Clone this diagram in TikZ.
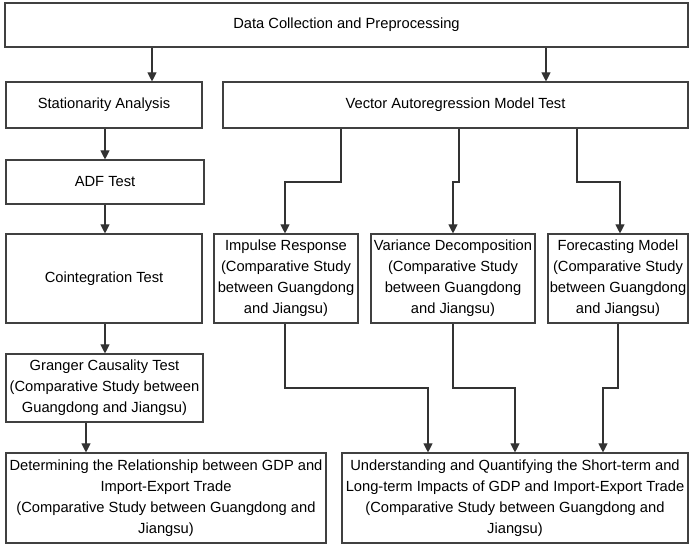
\documentclass[tikz,border=0pt]{standalone}
\usepackage{fontspec}
\setmainfont{Liberation Sans}
\usetikzlibrary{arrows.meta}
\begin{document}
\begin{tikzpicture}[x=1pt,y=-1pt,
  box/.style={draw=black!75, line width=1.1pt, inner sep=0pt, align=center,
    font=\fontsize{14.7}{21}\selectfont, text=black},
  arr/.style={draw=black!80, line width=1.1pt, -{Triangle[length=9pt,width=9pt]}},
  ln/.style={draw=black!80, line width=1.1pt}]
\useasboundingbox (0,0) rectangle (689,545);
\node[box, minimum width=683pt, minimum height=44pt] (top) at (346.5,25) {Data Collection and Preprocessing};
\node[box, minimum width=196pt, minimum height=46pt] (stat) at (104,105) {Stationarity Analysis};
\node[box, minimum width=465pt, minimum height=46pt] (var) at (455.5,105) {Vector Autoregression Model Test};
\node[box, minimum width=198pt, minimum height=44pt] (adf) at (105,182) {ADF Test};
\node[box, minimum width=196pt, minimum height=89pt] (coint) at (104,278.5) {Cointegration Test};
\node[box, minimum width=144pt, minimum height=89pt] (imp) at (286,278.5) {Impulse Response\\(Comparative Study\\between Guangdong\\and Jiangsu)};
\node[box, minimum width=164pt, minimum height=89pt] (vard) at (453,278.5) {Variance Decomposition\\(Comparative Study\\between Guangdong\\and Jiangsu)};
\node[box, minimum width=140pt, minimum height=89pt] (fore) at (618,278.5) {Forecasting Model\\(Comparative Study\\between Guangdong\\and Jiangsu)};
\node[box, minimum width=197pt, minimum height=68pt] (gran) at (104.5,388) {Granger Causality Test\\(Comparative Study between\\Guangdong and Jiangsu)};
\node[box, minimum width=320pt, minimum height=90pt] (det) at (166,498) {Determining the Relationship between GDP and\\Import-Export Trade\\(Comparative Study between Guangdong and\\Jiangsu)};
\node[box, minimum width=346pt, minimum height=90pt] (und) at (515,498) {Understanding and Quantifying the Short-term and\\Long-term Impacts of GDP and Import-Export Trade\\(Comparative Study between Guangdong and\\Jiangsu)};
% top arrows
\draw[arr] (top.south -| 152,0) -- (stat.north -| 152,0);
\draw[arr] (top.south -| 546,0) -- (var.north -| 546,0);
% left column
\draw[arr] (stat.south -| 105,0) -- (adf.north -| 105,0);
\draw[arr] (adf.south -| 105,0) -- (coint.north -| 105,0);
\draw[arr] (coint.south -| 105,0) -- (gran.north -| 105,0);
\draw[arr] (gran.south -| 86,0) -- (det.north -| 86,0);
% VAR to three
\draw[arr] (var.south -| 341,0) -- (341,182) -- (285,182) -- (imp.north -| 285,0);
\draw[arr] (var.south -| 459,0) -- (459,182) -- (453,182) -- (vard.north -| 453,0);
\draw[arr] (var.south -| 577,0) -- (577,182) -- (620,182) -- (fore.north -| 620,0);
% three to understanding
\draw[arr] (imp.south -| 285,0) -- (285,388) -- (428,388) -- (und.north -| 428,0);
\draw[arr] (vard.south -| 453,0) -- (453,388) -- (515,388) -- (und.north -| 515,0);
\draw[arr] (fore.south -| 618,0) -- (618,388) -- (603,388) -- (und.north -| 603,0);
\end{tikzpicture}
\end{document}
